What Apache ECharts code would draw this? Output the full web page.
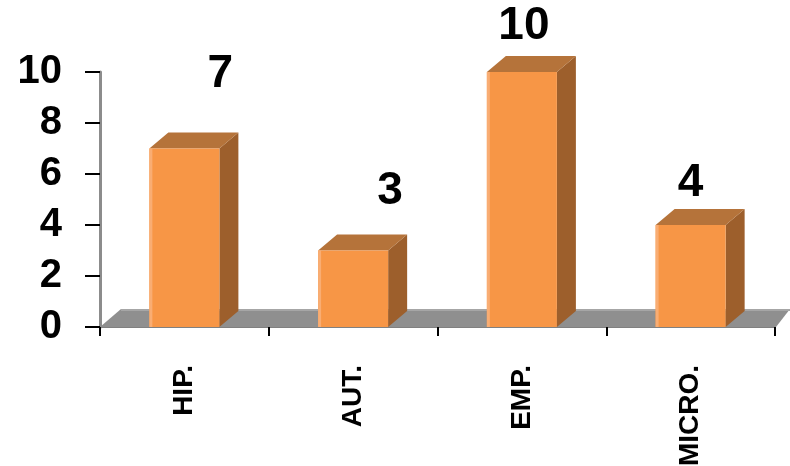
<!DOCTYPE html>
<html>
<head>
<meta charset="utf-8">
<script src="https://cdn.jsdelivr.net/npm/echarts@6/dist/echarts.min.js"></script>
<style>
html,body{margin:0;padding:0;background:#fff;}
#chart{width:790px;height:466px;}
</style>
</head>
<body>
<div id="chart"></div>
<script>
const categories = ['HIP.', 'AUT.', 'EMP.', 'MICRO.'];
const values = [7, 3, 10, 4];
const yTicks = [0, 2, 4, 6, 8, 10];

// label offsets (style), relative to bar front-top centre
const labelDx = [36, 37, 2, 0];
const labelDy = [-74, -59, -46, -42];

const FONT = '"Liberation Sans", Arial, sans-serif';
const DX = 19, DY = -16;

const chart = echarts.init(document.getElementById('chart'), null, {renderer: 'canvas'});

chart.setOption({
  animation: false,
  backgroundColor: '#ffffff',
  grid: {left: 100, right: 15, top: 72, bottom: 139, containLabel: false, outerBoundsMode: 'none'},
  xAxis: {
    type: 'category',
    data: categories,
    axisLine: {show: true, lineStyle: {color: '#808080', width: 1}},
    axisTick: {show: true, length: 9, lineStyle: {color: '#000', width: 2}},
    axisLabel: {rotate: 90, margin: 38, fontSize: 28, fontWeight: 'bold', color: '#000', fontFamily: FONT},
    splitLine: {show: false}
  },
  yAxis: {
    type: 'value',
    min: yTicks[0], max: yTicks[yTicks.length - 1], interval: 2,
    axisLine: {show: true, lineStyle: {color: '#8c8c8c', width: 3}},
    axisTick: {show: true, length: 15, lineStyle: {color: '#000', width: 2}},
    axisLabel: {margin: 38, fontSize: 40, fontWeight: 'bold', color: '#000', fontFamily: FONT},
    splitLine: {show: false}
  },
  series: [
    {
      type: 'custom',
      z: 1,
      data: [[0, 0]],
      renderItem: function (params, api) {
        const cs = params.coordSys;
        const yb = api.coord([0, 0])[1];
        const xl = cs.x, xr = cs.x + cs.width;
        return {
          type: 'group',
          children: [
            {type: 'polygon', shape: {points: [[xl, yb], [xl + DX + 2, yb + DY - 2], [xr + 15, yb + DY - 2], [xr + 1, yb]]},
             style: {fill: '#8f8f8f'}},
            {type: 'line', shape: {x1: xl + DX + 2, y1: yb + DY - 1, x2: xr + 15, y2: yb + DY - 1},
             style: {stroke: '#a6a6a6', lineWidth: 2}}
          ]
        };
      }
    },
    {
      type: 'custom',
      z: 2,
      data: values.map((v, i) => [i, v]),
      renderItem: function (params, api) {
        const i = api.value(0), v = api.value(1);
        const top = api.coord([i, v]);
        const base = api.coord([i, 0]);
        const bw = api.size([1, 0])[0] * 0.415;
        const x0 = top[0] - bw / 2, x1 = top[0] + bw / 2;
        const yt = top[1], yb = base[1];
        const idx = params.dataIndex;
        return {
          type: 'group',
          children: [
            {type: 'polygon', shape: {points: [[x1, yb], [x1, yt], [x1 + DX, yt + DY], [x1 + DX, yb + DY]]},
             style: {fill: '#9d5f2c'}},
            {type: 'polygon', shape: {points: [[x0, yt], [x0 + DX, yt + DY], [x1 + DX, yt + DY], [x1, yt]]},
             style: {fill: '#b5733a'}},
            {type: 'rect', shape: {x: x0, y: yt, width: bw, height: yb - yt},
             style: {fill: '#f79646'}},
            {type: 'rect', shape: {x: x0, y: yt, width: 3, height: yb - yt},
             style: {fill: '#f9ad73'}},
            {type: 'text', style: {text: String(v), x: top[0] + labelDx[idx], y: yt + labelDy[idx],
              align: 'center', verticalAlign: 'middle', fontSize: 46, fontWeight: 'bold', fontFamily: FONT, fill: '#000'}}
          ]
        };
      }
    }
  ]
});
</script>
</body>
</html>
